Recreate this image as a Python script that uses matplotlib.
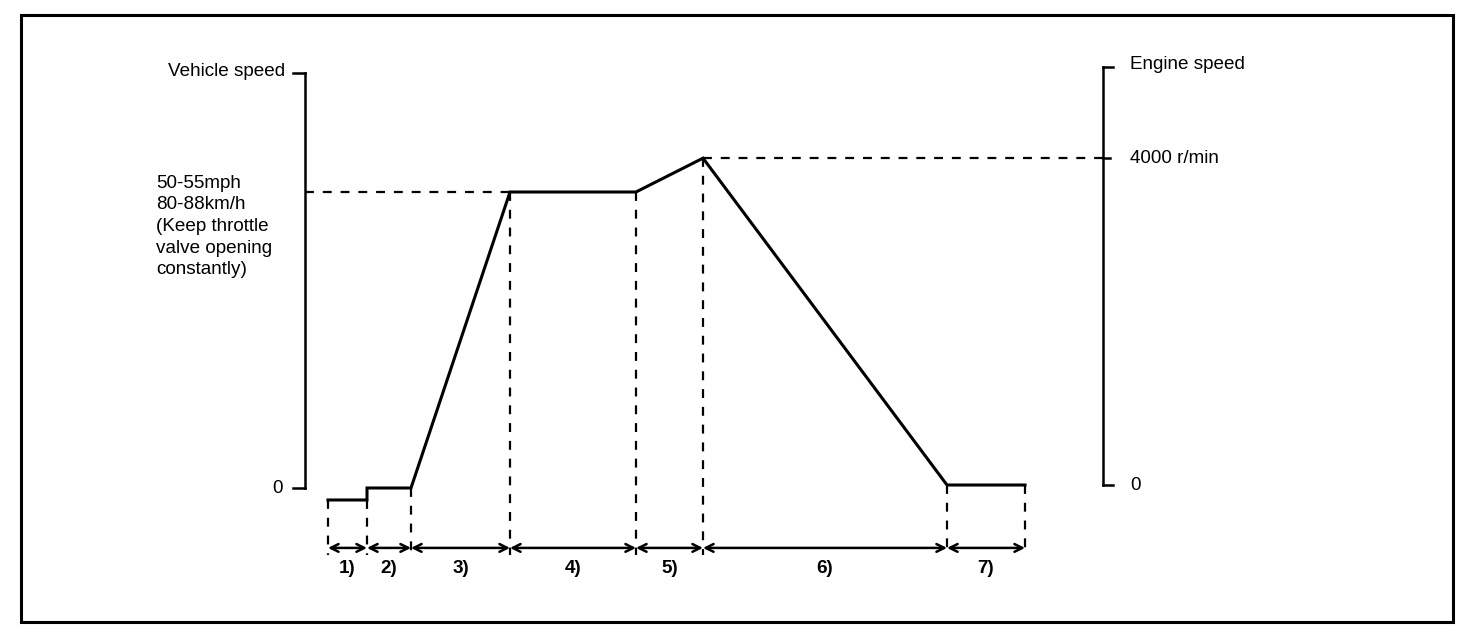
import matplotlib.pyplot as plt
from matplotlib.patches import Rectangle

plt.rcParams['font.family'] = ['Liberation Sans', 'DejaVu Sans']

# === Data ===
# boundaries between test phases (arbitrary time units)
t_breaks = [2.3, 6.2, 10.6, 20.5, 33.1, 39.8, 64.2, 72.0]
phase_labels = ["1)", "2)", "3)", "4)", "5)", "6)", "7)"]

# vehicle speed profile (km/h scale)
profile_t = [2.3, 6.2, 6.2, 10.6, 20.5, 33.1, 39.8, 64.2, 72.0]
profile_v = [-3.4, -3.4, 0, 0, 84, 84, 93.6, 0.85, 0.85]

speed_hold = 84          # 80-88 km/h
speed_axis_top = 117.8
speed_text = "50-55mph\n80-88km/h\n(Keep throttle\nvalve opening\nconstantly)"

# engine speed axis (r/min) mapped on vehicle speed scale
rpm_zero = 0.85
rpm_4000 = 93.6
rpm_axis_top = 119.5
rpm_axis_x = 79.8

arrow_v = -17.0

# === Figure ===
fig = plt.figure(figsize=(14.72, 6.34), dpi=100)
ax = fig.add_axes([0, 0, 1, 1])
ax.set_xlim(-30.5, 116.7)
ax.set_ylim(-41.43, 138.48)
ax.axis('off')

# border
fig.patches.append(Rectangle((21 / 1472, 12 / 634), 1432 / 1472, 607 / 634,
                             transform=fig.transFigure, fill=False,
                             lw=2.2, ec='black'))

fs = 13.6

# left axis (vehicle speed)
ax.plot([0, 0], [0, speed_axis_top], color='black', lw=1.8)
ax.plot([-1.2, 0], [speed_axis_top, speed_axis_top], color='black', lw=1.8)
ax.plot([-1.2, 0], [0, 0], color='black', lw=1.8)
ax.text(-2.0, speed_axis_top + 0.5, "Vehicle speed", ha='right', va='center', fontsize=fs)
ax.text(-2.2, 0, "0", ha='right', va='center', fontsize=fs)
ax.text(-14.9, speed_hold + 4.9, speed_text, ha='left', va='top', fontsize=fs,
        linespacing=1.36)

# right axis (engine speed)
ax.plot([rpm_axis_x, rpm_axis_x], [rpm_zero, rpm_axis_top], color='black', lw=1.8)
ax.plot([rpm_axis_x, rpm_axis_x + 1.0], [rpm_axis_top, rpm_axis_top], color='black', lw=1.8)
ax.plot([rpm_axis_x, rpm_axis_x + 1.0], [rpm_zero, rpm_zero], color='black', lw=1.8)
ax.plot([rpm_axis_x, rpm_axis_x + 0.7], [rpm_4000, rpm_4000], color='black', lw=1.8)
ax.text(rpm_axis_x + 2.7, rpm_axis_top + 0.8, "Engine speed", ha='left', va='center', fontsize=fs)
ax.text(rpm_axis_x + 2.7, rpm_4000, "4000 r/min", ha='left', va='center', fontsize=fs)
ax.text(rpm_axis_x + 2.7, rpm_zero, "0", ha='left', va='center', fontsize=fs)

# reference dashed lines
dash = dict(color='black', lw=1.6, ls=(0, (4, 4)))
ax.plot([0, t_breaks[3]], [speed_hold, speed_hold], **dash)
ax.plot([t_breaks[5], rpm_axis_x], [rpm_4000, rpm_4000], **dash)

# vertical dashed lines from profile down to the phase arrows
for t in t_breaks:
    top = min(v for tt, v in zip(profile_t, profile_v) if tt == t)
    ax.plot([t, t], [top, arrow_v - 2.0], **dash)

# speed profile
ax.plot(profile_t, profile_v, color='black', lw=2.2, solid_joinstyle='miter')

# phase arrows and labels
for i, lab in enumerate(phase_labels):
    t0, t1 = t_breaks[i], t_breaks[i + 1]
    ax.annotate("", xy=(t1, arrow_v), xytext=(t0, arrow_v),
                arrowprops=dict(arrowstyle='<->', color='black', lw=1.8,
                                mutation_scale=14, shrinkA=0, shrinkB=0))
    ax.text((t0 + t1) / 2, arrow_v - 5.9, lab, ha='center', va='center',
            fontsize=fs, fontweight='bold')

fig.savefig("out.png", dpi=100)
